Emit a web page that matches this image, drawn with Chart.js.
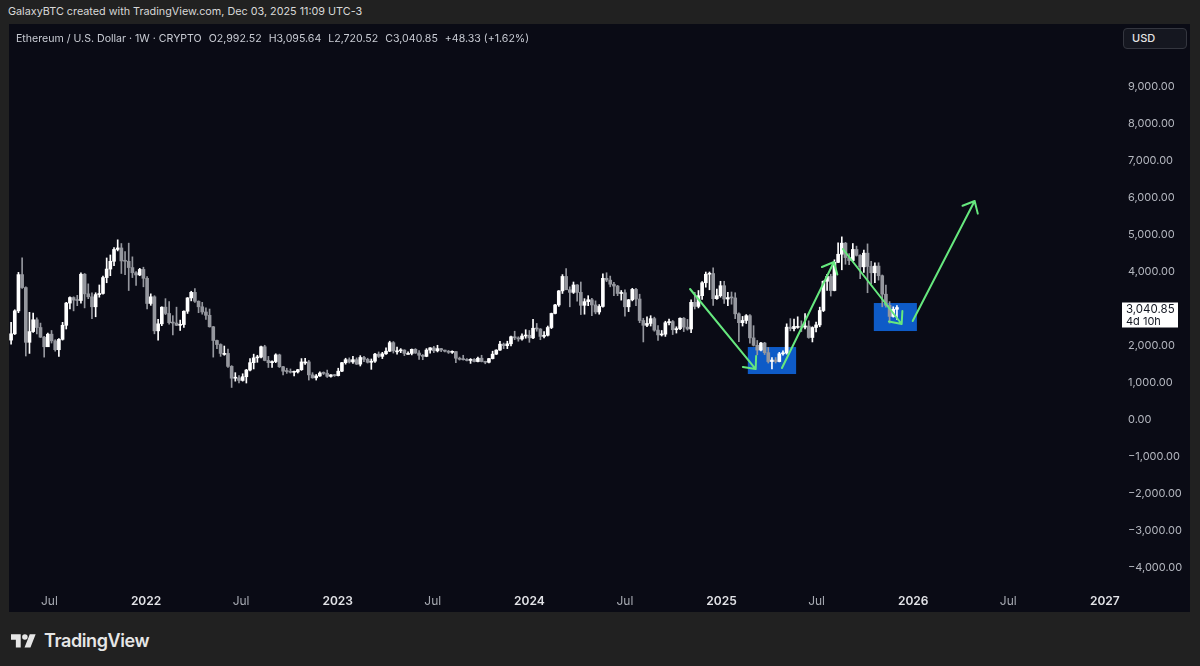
<!DOCTYPE html>
<html>
<head>
<meta charset="utf-8">
<title>Ethereum / U.S. Dollar 1W</title>
<script src="https://cdn.jsdelivr.net/npm/chart.js@4"></script>
<style>
  html, body { margin: 0; padding: 0; }
  body { width: 1200px; height: 666px; background: #212121; position: relative; overflow: hidden;
         font-family: Inter, "Noto Sans", sans-serif; }
  .header { position: absolute; left: 8px; top: 5px; font-size: 10.8px; color: #d8d8d8; white-space: nowrap; }
  .panel { position: absolute; left: 9px; top: 24px; width: 1181px; height: 588px; background: #0a0b15; }
  .panel canvas { position: absolute; left: 0; top: 0; }
  .legend { position: absolute; left: 7px; top: 8px; font-size: 10.6px; color: #c9ccd4; white-space: nowrap; }
  .legend .v { margin-left: 7px; }
  .usd { position: absolute; left: 1114px; top: 4px; width: 62px; height: 19px; border: 1px solid #34363f;
         border-radius: 4px; background: #151720; color: #e4e4e4; font-size: 11px; font-weight: 500;
         line-height: 19px; box-sizing: content-box; }
  .usd span { margin-left: 8px; }
  .logo { position: absolute; left: 11px; top: 630px; display: flex; align-items: center; color: #e6e6e6; }
  .logo span { font-size: 18px; font-weight: 600; letter-spacing: -0.4px; margin-left: 8px; }
</style>
</head>
<body>
<div class="header">GalaxyBTC created with TradingView.com, Dec 03, 2025 11:09 UTC-3</div>
<div class="panel">
  <canvas id="chart" width="1181" height="588"></canvas>
  <div class="legend">Ethereum / U.S. Dollar · 1W · CRYPTO<span class="v">O2,992.52</span><span class="v">H3,095.64</span><span class="v">L2,720.52</span><span class="v">C3,040.85</span><span class="v">+48.33 (+1.62%)</span></div>
  <div class="usd"><span>USD</span></div>
</div>
<div class="logo">
  <svg width="25" height="17" viewBox="0 0 36 24"><path fill="#e6e6e6" d="M14 22H7V11H0V3h14v19zM28 22h-8.5l7.5-19h8.5L28 22z"/><circle fill="#e6e6e6" cx="20" cy="7" r="4"/></svg>
  <span>TradingView</span>
</div>

<script>
// weekly ETHUSD candles, first bar = week of 2021-04-19, one bar per week
const firstWeek = '2021-04-19';
const firstOpen = 2160;

const closes = [
  // 2021
  2330, 2950, 3930, 3580, 2100, 2390, 2710, 2500, 2240, 1980, 2320, 2140, 1900, 2180, 2560, 3160,
  3310, 3240, 3230, 3940, 3410, 3330, 3060, 3390, 3420, 3850, 4080, 4290, 4610, 4650, 4300, 4290,
  4120, 3980, 3920, 4070, 3830,
  // 2022
  3150, 3330, 2410, 2600, 3050, 2880, 2630, 2620, 2560, 2580, 2940, 3300, 3450, 3210, 3060, 2920,
  2830, 2520, 2150, 2040, 1800, 1800, 1450, 1130, 1140, 1070, 1170, 1350, 1550, 1680, 1700, 1980,
  1610, 1550, 1580, 1760, 1440, 1320, 1310, 1290, 1300, 1360, 1570, 1570, 1220, 1140, 1190, 1270,
  1260, 1180, 1220, 1200,
  // 2023
  1320, 1550, 1630, 1570, 1630, 1510, 1690, 1640, 1560, 1590, 1780, 1720, 1790, 1860, 2090, 1870,
  1870, 1890, 1800, 1800, 1910, 1810, 1750, 1720, 1890, 1950, 1870, 1930, 1890, 1860, 1830, 1850,
  1670, 1640, 1630, 1610, 1640, 1580, 1670, 1580, 1560, 1660, 1780, 1890, 2050, 2010, 2060, 2250,
  2220, 2190, 2270, 2290,
  // 2024
  2220, 2480, 2460, 2260, 2290, 2500, 2880, 3110, 3490, 3880, 3520, 3450, 3650, 3450, 3100, 3200,
  3250, 3110, 2920, 3070, 3830, 3780, 3670, 3620, 3420, 3440, 3060, 3250, 3530, 3270, 2690, 2560,
  2610, 2740, 2430, 2300, 2320, 2630, 2660, 2440, 2470, 2750, 2510, 2460, 3180, 3070, 3360, 3710,
  3940, 3960, 3280, 3360, 3630,
  // 2025
  3270, 3310, 3300, 2870, 2630, 2690, 2820, 2220, 2020, 1890, 2080, 1820, 1580, 1620, 1580, 1790,
  1810, 2510, 2470, 2530, 2530, 2510, 2540, 2230, 2500, 2570, 2960, 3750, 3880, 3500, 4260, 4480,
  4780, 4390, 4310, 4610, 4450, 4140, 4510, 4150, 3980, 4160, 3900, 3400, 3100, 2800, 2992.52, 3040.85
];

const highs = [
  2640, 2980, 3990, 4380, 3600, 2910, 2890, 2760, 2620, 2260, 2350, 2420, 2170, 2200, 2640, 3180,
  3330, 3330, 3370, 3980, 3960, 3680, 3440, 3440, 3650, 3890, 4380, 4460, 4660, 4870, 4770, 4550,
  4780, 4410, 4010, 4100, 4130,
  3880, 3410, 3360, 2720, 3060, 3280, 3200, 2820, 3050, 2700, 2950, 3310, 3480, 3550, 3220, 3180,
  3030, 3000, 2530, 2160, 2060, 2000, 1920, 1470, 1280, 1200, 1250, 1370, 1660, 1780, 1750, 2000,
  2020, 1720, 1600, 1790, 1780, 1450, 1400, 1380, 1320, 1370, 1660, 1670, 1610, 1280, 1230, 1300,
  1300, 1350, 1230, 1230,
  1400, 1560, 1670, 1680, 1720, 1680, 1740, 1720, 1670, 1650, 1800, 1840, 1830, 1950, 2130, 2120,
  1970, 1930, 1900, 1840, 1920, 1930, 1880, 1770, 1930, 1960, 1990, 2020, 1940, 1890, 1880, 1870,
  1850, 1700, 1750, 1660, 1660, 1660, 1700, 1750, 1590, 1670, 1860, 1900, 2130, 2080, 2130, 2270,
  2400, 2250, 2330, 2440,
  2420, 2720, 2610, 2470, 2390, 2540, 2890, 3130, 3500, 3930, 4090, 3600, 3730, 3660, 3730, 3280,
  3360, 3290, 3220, 3120, 3950, 3980, 3890, 3720, 3640, 3500, 3520, 3260, 3560, 3560, 3400, 2750,
  2790, 2820, 2780, 2550, 2420, 2670, 2730, 2690, 2520, 2760, 2770, 2720, 3250, 3450, 3500, 3740,
  4000, 4000, 4110, 3540, 3750,
  3750, 3450, 3460, 3440, 2900, 2800, 2850, 2850, 2550, 2150, 2100, 2100, 1960, 1690, 1690, 1830,
  1870, 2600, 2740, 2730, 2790, 2680, 2880, 2680, 2520, 2650, 3050, 3760, 3940, 3940, 4330, 4790,
  4950, 4800, 4500, 4770, 4700, 4470, 4590, 4760, 4290, 4250, 4250, 3920, 3650, 3200, 3060, 3095.64
];

const lows = [
  2050, 2310, 2900, 3560, 1730, 1800, 2370, 2330, 2230, 1700, 1980, 2080, 1860, 1720, 2160, 2460,
  3000, 2950, 3090, 3160, 3030, 3280, 2740, 2790, 3320, 3400, 3710, 3900, 4170, 4570, 3960, 3930,
  3500, 3850, 3640, 3900, 3600,
  3000, 3100, 2330, 2160, 2550, 2850, 2590, 2300, 2550, 2420, 2500, 2880, 3220, 3180, 2900, 2860,
  2720, 2510, 1700, 1930, 1720, 1750, 1420, 880, 1050, 1000, 1050, 1000, 1330, 1380, 1560, 1680,
  1600, 1420, 1420, 1550, 1420, 1220, 1260, 1270, 1190, 1270, 1340, 1500, 1080, 1130, 1080, 1180,
  1230, 1150, 1160, 1180,
  1190, 1310, 1510, 1540, 1530, 1500, 1460, 1580, 1540, 1370, 1560, 1690, 1660, 1770, 1850, 1810,
  1780, 1820, 1740, 1780, 1760, 1800, 1640, 1630, 1710, 1810, 1820, 1840, 1850, 1840, 1800, 1800,
  1550, 1620, 1620, 1600, 1530, 1570, 1570, 1570, 1520, 1540, 1650, 1770, 1880, 1930, 1930, 2000,
  2170, 2130, 2160, 2210,
  2100, 2200, 2400, 2170, 2220, 2270, 2470, 2870, 3070, 3420, 3570, 3060, 3420, 3210, 2850, 2860,
  3090, 2820, 2870, 2860, 3050, 3740, 3600, 3360, 3360, 3240, 2810, 2930, 3220, 3090, 2630, 2110,
  2520, 2540, 2400, 2150, 2270, 2260, 2570, 2310, 2350, 2440, 2390, 2430, 2360, 3000, 3030, 3260,
  3590, 3520, 3100, 3260, 3320,
  3150, 3090, 3130, 2740, 2120, 2540, 2610, 2080, 2000, 1760, 1870, 1770, 1540, 1380, 1540, 1570,
  1750, 1780, 2410, 2410, 2480, 2390, 2460, 2210, 2110, 2380, 2520, 2930, 3500, 3350, 3490, 4250,
  4060, 4210, 4200, 4290, 4430, 3820, 3990, 3440, 3680, 3710, 3780, 3060, 3050, 2620, 2780, 2720.52
];

// crypto trades 24/7, so each weekly open is the previous weekly close
const opens = closes.map((c, i) => i === 0 ? firstOpen : closes[i - 1]);

const DAY = 86400000;
const weeks = closes.map((c, i) => Date.parse(firstWeek) + i * 7 * DAY);

// time axis
const xMin = Date.parse('2021-04-15');
const xMax = Date.parse('2027-01-26');
const timeTickDates = ['2021-07-01', '2022-01-01', '2022-07-01', '2023-01-01', '2023-07-01', '2024-01-01',
  '2024-07-01', '2025-01-01', '2025-07-01', '2026-01-01', '2026-07-01', '2027-01-01'];
const timeTickLabels = ['Jul', '2022', 'Jul', '2023', 'Jul', '2024', 'Jul', '2025', 'Jul', '2026', 'Jul', '2027'];
const timeTicks = timeTickDates.map(d => Date.parse(d));

// price axis
const yMin = -4540;
const yMax = 10703;
const priceTicks = [9000, 8000, 7000, 6000, 5000, 4000, 2000, 1000, 0, -1000, -2000, -3000, -4000];

// drawings on the chart (date, price)
const boxes = [
  { from: '2025-02-20', to: '2025-05-23', top: 1973, bottom: 1243 },
  { from: '2025-10-18', to: '2026-01-08', top: 3162, bottom: 2405 }
];
const arrows = [
  { from: ['2024-11-02', 3541], to: ['2025-03-07', 1378] },
  { from: ['2025-04-26', 1405], to: ['2025-08-03', 4270] },
  { from: ['2025-08-20', 4622], to: ['2025-12-10', 2595] },
  { from: ['2025-12-31', 2676], to: ['2026-04-28', 5919] }
];
const lastPrice = closes[closes.length - 1];
const countdown = '4d 10h';

const upColor = '#ffffff';
const downColor = '#95979e';
const boxColor = '#0e5bc7';
const arrowColor = '#66e87e';

const candleColor = (c) => closes[c.dataIndex] >= opens[c.dataIndex] ? upColor : downColor;
const fmt = (v, d) => v.toLocaleString('en-US', { minimumFractionDigits: d, maximumFractionDigits: d }).replace('-', '\u2212');

const drawings = {
  id: 'drawings',
  beforeDatasetsDraw(chart) {
    const { ctx, scales: { x, y } } = chart;
    ctx.save();
    ctx.fillStyle = boxColor;
    boxes.forEach(b => {
      const x0 = x.getPixelForValue(Date.parse(b.from));
      const x1 = x.getPixelForValue(Date.parse(b.to));
      const y0 = y.getPixelForValue(b.top);
      const y1 = y.getPixelForValue(b.bottom);
      ctx.fillRect(x0, y0, x1 - x0, y1 - y0);
    });
    ctx.restore();
  },
  afterDatasetsDraw(chart) {
    const { ctx, scales: { x, y } } = chart;
    ctx.save();
    ctx.strokeStyle = arrowColor;
    ctx.lineWidth = 2;
    ctx.lineCap = 'round';
    ctx.lineJoin = 'round';
    arrows.forEach(a => {
      const x0 = x.getPixelForValue(Date.parse(a.from[0])), y0 = y.getPixelForValue(a.from[1]);
      const x1 = x.getPixelForValue(Date.parse(a.to[0])), y1 = y.getPixelForValue(a.to[1]);
      const back = Math.atan2(y0 - y1, x0 - x1);
      const len = 13, spread = 0.72;
      ctx.beginPath();
      ctx.moveTo(x0, y0);
      ctx.lineTo(x1, y1);
      ctx.moveTo(x1 + len * Math.cos(back - spread), y1 + len * Math.sin(back - spread));
      ctx.lineTo(x1, y1);
      ctx.lineTo(x1 + len * Math.cos(back + spread), y1 + len * Math.sin(back + spread));
      ctx.stroke();
    });
    ctx.restore();
  },
  afterDraw(chart) {
    // last price label on the price axis
    const { ctx, chartArea, scales: { y } } = chart;
    const py = y.getPixelForValue(lastPrice);
    ctx.save();
    ctx.fillStyle = '#ffffff';
    ctx.fillRect(chartArea.right + 4, py - 5, 56, 25);
    ctx.fillStyle = '#131722';
    ctx.font = '11.5px Inter';
    ctx.textBaseline = 'middle';
    ctx.fillText(fmt(lastPrice, 2), chartArea.right + 8, py + 2);
    ctx.font = '11px Inter';
    ctx.fillText(countdown, chartArea.right + 8, py + 14);
    ctx.restore();
  }
};

new Chart(document.getElementById('chart'), {
  type: 'bar',
  data: {
    datasets: [
      {
        label: 'wick',
        data: weeks.map((t, i) => ({ x: t, y: [lows[i], highs[i]] })),
        backgroundColor: candleColor,
        barThickness: 1,
        grouped: false,
        order: 2
      },
      {
        label: 'body',
        data: weeks.map((t, i) => ({ x: t, y: [opens[i], closes[i]] })),
        backgroundColor: candleColor,
        barThickness: 3,
        minBarLength: 1,
        grouped: false,
        order: 1
      }
    ]
  },
  options: {
    responsive: false,
    animation: false,
    layout: { padding: 0 },
    plugins: { legend: { display: false }, tooltip: { enabled: false } },
    scales: {
      x: {
        type: 'linear',
        min: xMin,
        max: xMax,
        offset: false,
        grid: { display: false },
        border: { display: false },
        afterBuildTicks: s => { s.ticks = timeTicks.map(v => ({ value: v })); },
        afterFit: s => { s.height = 24; s.paddingLeft = 0; s.paddingRight = 0; },
        ticks: {
          autoSkip: false,
          maxRotation: 0,
          padding: -2,
          callback: v => timeTickLabels[timeTicks.indexOf(v)],
          color: c => /^\d/.test(timeTickLabels[c.index] || '') ? '#e2e3e7' : '#a7aab2',
          font: c => ({ family: 'Inter', size: 12, weight: /^\d/.test(timeTickLabels[c.index] || '') ? '600' : '400' })
        }
      },
      y: {
        type: 'linear',
        position: 'right',
        min: yMin,
        max: yMax,
        grid: { display: false },
        border: { display: false },
        afterBuildTicks: s => { s.ticks = priceTicks.map(v => ({ value: v })); },
        afterFit: s => { s.width = 72; s.paddingTop = 0; s.paddingBottom = 0; },
        ticks: {
          padding: 2,
          crossAlign: 'near',
          color: '#b4b7bf',
          font: { family: 'Inter', size: 11 },
          callback: v => fmt(v, 2)
        }
      }
    }
  },
  plugins: [drawings]
});
</script>
</body>
</html>
